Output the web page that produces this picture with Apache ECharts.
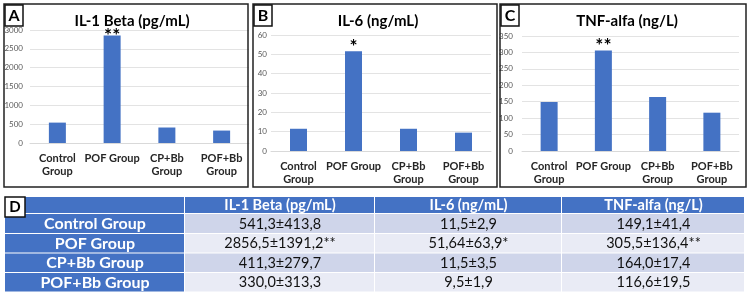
<!DOCTYPE html>
<html>
<head>
<meta charset="utf-8">
<script src="https://cdn.jsdelivr.net/npm/echarts@6/dist/echarts.min.js"></script>
<style>
  html, body { margin: 0; padding: 0; background: #fff; }
  #main { width: 750px; height: 297px; }
</style>
</head>
<body>
<div id="main"></div>
<script>
// groups / labels
var groups = ['Control Group', 'POF Group', 'CP+Bb Group', 'POF+Bb Group'];
var xLabels = ['Control\nGroup', 'POF Group', 'CP+Bb\nGroup', 'POF+Bb\nGroup'];
var titles = ['IL-1 Beta (pg/mL)', 'IL-6 (ng/mL)', 'TNF-alfa (ng/L)'];
var panelTags = ['A', 'B', 'C'];

// mean / sd / significance per marker
var il1Mean = [541.3, 2856.5, 411.3, 330.0];
var il1Sd = [413.8, 1391.2, 279.7, 313.3];
var il1Sig = ['', '**', '', ''];
var il6Mean = [11.5, 51.64, 11.5, 9.5];
var il6Sd = [2.9, 63.9, 3.5, 1.9];
var il6Sig = ['', '*', '', ''];
var tnfMean = [149.1, 305.5, 164.0, 116.6];
var tnfSd = [41.4, 136.4, 17.4, 19.5];
var tnfSig = ['', '**', '', ''];

// y axis ranges
var yMax = [3000, 60, 350];
var yStep = [500, 10, 50];

var means = [il1Mean, il6Mean, tnfMean];
var sds = [il1Sd, il6Sd, tnfSd];
var sigs = [il1Sig, il6Sig, tnfSig];

var chart = echarts.init(document.getElementById('main'));

// panel layout (px)
var grids = [
    { left: 30, top: 30, width: 219, height: 113 },
    { left: 271, top: 35, width: 220, height: 116 },
    { left: 522, top: 36, width: 217, height: 115 }
];
var frames = [[4, 4, 244, 183], [253, 4, 244, 183], [500, 4, 246, 183]];
var titleX = [127, 373, 622];
var labelMargin = [7, 4, 9];
var starDist = [-10, -5, -5];

function fmt(v) {
    var s = Math.abs(v * 10 - Math.round(v * 10)) < 1e-9 ? v.toFixed(1) : String(v);
    return s.replace('.', ',');
}

var xAxis = [], yAxis = [], series = [], title = [], graphic = [];
for (var i = 0; i < 3; i++) {
    title.push({
        text: titles[i],
        left: titleX[i],
        top: 9,
        textAlign: 'center',
        textStyle: { fontFamily: 'Lato', fontWeight: 'bold', fontSize: 15, color: '#000' }
    });
    xAxis.push({
        type: 'category',
        gridIndex: i,
        data: xLabels,
        axisTick: { show: false },
        axisLine: { lineStyle: { color: '#d9d9d9' } },
        axisLabel: {
            interval: 0,
            margin: 9,
            color: '#262626',
            fontFamily: 'Lato',
            fontWeight: 'bold',
            fontSize: 11,
            lineHeight: 13
        }
    });
    yAxis.push({
        type: 'value',
        gridIndex: i,
        min: 0,
        max: yMax[i],
        interval: yStep[i],
        axisLine: { show: false },
        axisTick: { show: false },
        axisLabel: {
            color: '#595959', fontSize: 8, fontFamily: 'Lato', margin: labelMargin[i],
            formatter: function (v) { return String(v); }
        },
        splitLine: { lineStyle: { color: '#e3e3e3' } }
    });
    (function (sig) {
        series.push({
            type: 'bar',
            xAxisIndex: i,
            yAxisIndex: i,
            barWidth: 17,
            itemStyle: { color: '#4472c4' },
            z: 3,
            label: {
                show: true,
                position: 'top',
                distance: starDist[i],
                formatter: function (p) { return sig[p.dataIndex]; },
                color: '#000',
                fontSize: 19,
                fontWeight: 'bold'
            },
            data: means[i]
        });
    })(sigs[i]);

    var f = frames[i];
    graphic.push({
        type: 'rect', z: 10,
        shape: { x: f[0], y: f[1], width: f[2], height: f[3] },
        style: { fill: 'none', stroke: '#222', lineWidth: 1.5 }
    });
    graphic.push({
        type: 'rect', z: 11,
        shape: { x: f[0] + 1, y: f[1] + 1, width: 18, height: 21 },
        style: { fill: '#fff', stroke: '#111', lineWidth: 1.5 }
    });
    graphic.push({
        type: 'text', z: 12,
        style: {
            text: panelTags[i], x: f[0] + 10, y: f[1] + 12,
            align: 'center', verticalAlign: 'middle',
            fontFamily: 'Lato', fontWeight: 'bold', fontSize: 16, fill: '#000'
        }
    });
}

// table D
var tableHead = ['', titles[0], titles[1], titles[2]];
var colX = [5, 185, 375, 562, 745];
var rowY = [197, 214, 234, 253.5, 273, 292.5];
var rowFill = ['#cfd5ea', '#e9ebf5'];
for (var r = 0; r <= groups.length; r++) {
    for (var c = 0; c < 4; c++) {
        var text, fill, color, weight, size;
        if (r === 0) {
            text = tableHead[c]; fill = '#4472c4'; color = '#fff'; weight = 'bold'; size = 14.5;
        } else if (c === 0) {
            text = groups[r - 1]; fill = '#4472c4'; color = '#fff'; weight = 'bold'; size = 16;
        } else {
            text = fmt(means[c - 1][r - 1]) + '±' + fmt(sds[c - 1][r - 1]) + sigs[c - 1][r - 1];
            fill = rowFill[(r - 1) % 2]; color = '#111'; weight = 'normal'; size = 14.5;
        }
        var x0 = colX[c], x1 = colX[c + 1], y0 = rowY[r], y1 = rowY[r + 1];
        graphic.push({
            type: 'rect',
            shape: { x: x0, y: y0, width: x1 - x0 - 1, height: y1 - y0 - 1 },
            style: { fill: fill }
        });
        graphic.push({
            type: 'text',
            style: {
                text: text, x: (x0 + x1) / 2, y: (y0 + y1) / 2,
                align: 'center', verticalAlign: 'middle',
                fontFamily: 'Lato', fontWeight: weight, fontSize: size, fill: color
            }
        });
    }
}
graphic.push({
    type: 'rect', z: 11,
    shape: { x: 5, y: 197, width: 20, height: 20 },
    style: { fill: '#fff', stroke: '#111', lineWidth: 1.5 }
});
graphic.push({
    type: 'text', z: 12,
    style: {
        text: 'D', x: 15, y: 207.5, align: 'center', verticalAlign: 'middle',
        fontFamily: 'Lato', fontWeight: 'bold', fontSize: 15, fill: '#000'
    }
});

chart.setOption({
    animation: false,
    textStyle: { fontFamily: 'Lato' },
    title: title,
    grid: grids,
    xAxis: xAxis,
    yAxis: yAxis,
    series: series,
    graphic: graphic
});
</script>
</body>
</html>
